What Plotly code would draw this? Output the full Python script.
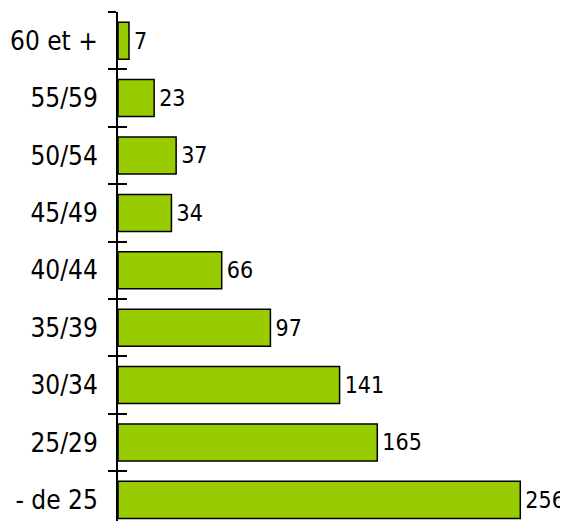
import plotly.graph_objects as go

categories = ["- de 25", "25/29", "30/34", "35/39", "40/44", "45/49", "50/54", "55/59", "60 et +"]
values = [256, 165, 141, 97, 66, 34, 37, 23, 7]

FONT = "DejaVu Sans Condensed, DejaVu Sans, sans-serif"

fig = go.Figure()
fig.add_trace(go.Bar(
    x=values, y=categories, orientation="h",
    marker=dict(color="#99CC00", line=dict(color="black", width=1.5)),
    text=[str(v) for v in values], textposition="outside",
    texttemplate="\u200a%{text}", constraintext="none",
    textfont=dict(family=FONT, size=23, color="black"),
    cliponaxis=False, hoverinfo="skip",
))
# invisible trace for inside tick marks (ticks crossing axis)
fig.add_trace(go.Scatter(
    x=values, y=categories, yaxis="y2", mode="markers",
    marker=dict(opacity=0), hoverinfo="skip", showlegend=False,
))

# page body has an 8px default margin: compensate
fig.update_layout(
    width=560, height=513,
    margin=dict(l=110, r=10, t=4, b=0),
    paper_bgcolor="white", plot_bgcolor="white",
    showlegend=False, bargap=0.355,
    font=dict(family=FONT, size=26, color="black"),
    xaxis=dict(range=[0, 280], visible=False, fixedrange=True),
    yaxis=dict(
        type="category", categoryorder="array", categoryarray=categories,
        range=[-0.368, 8.5], automargin=False,
        showline=True, linecolor="black", linewidth=2,
        ticks="outside", ticklen=8, tickwidth=2, tickcolor="black",
        tickson="boundaries", showgrid=False, zeroline=False,
        ticklabelstandoff=13,
        tickfont=dict(family=FONT, size=26, color="black"),
    ),
    yaxis2=dict(
        type="category", categoryorder="array", categoryarray=categories,
        overlaying="y", matches="y", anchor="x", side="left",
        showline=False, showticklabels=False, showgrid=False,
        ticks="inside", ticklen=9, tickwidth=2, tickcolor="black",
        tickson="boundaries", zeroline=False,
    ),
)

fig.write_html("out.html")
